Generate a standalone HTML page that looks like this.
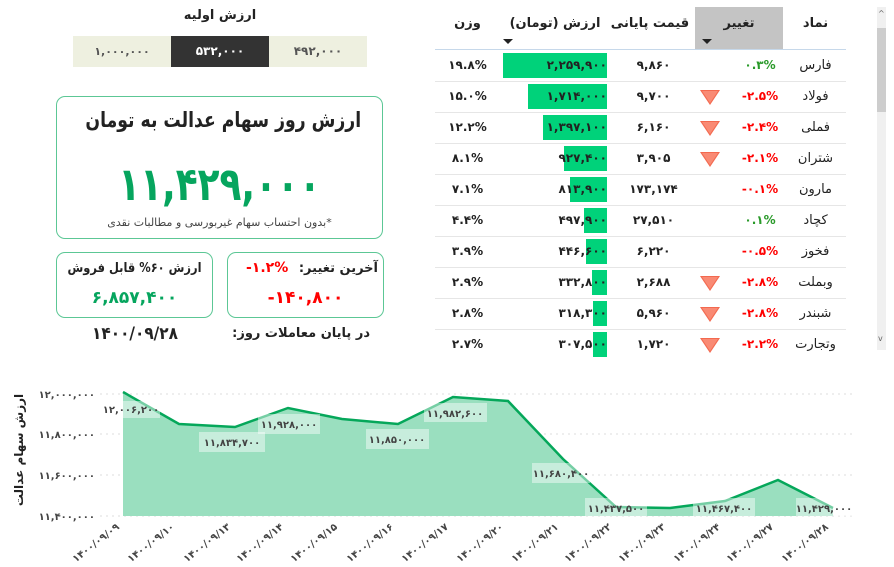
<!DOCTYPE html>
<html><head><meta charset="utf-8"><style>
*{margin:0;padding:0;box-sizing:border-box}
body{width:894px;height:567px;background:#fff;position:relative;overflow:hidden;font-family:"DejaVu Sans","Liberation Sans",sans-serif;color:#222}
.a{position:absolute}
.c{text-align:center;white-space:nowrap}
.b{font-weight:bold}
.box{position:absolute;border:1.5px solid #5cc795;border-radius:9px}
.cell{position:absolute;height:31px;line-height:31px;font-size:12px;font-weight:bold;text-align:center;white-space:nowrap}
.bar{position:absolute;background:#00d27a}
.tri{position:absolute;width:0;height:0;border-left:10px solid transparent;border-right:10px solid transparent;border-top:15px solid #f3694f}
.tri:after{content:"";position:absolute;left:-8px;top:-14px;border-left:8px solid transparent;border-right:8px solid transparent;border-top:12px solid #f98a74}
.rl{position:absolute;left:435px;width:411px;height:1px;background:#e6e6e6}
.nm{font-weight:normal;font-size:13px}
</style></head><body>

<div class="a c b" style="left:140px;top:8px;width:160px;font-size:13px">ارزش اولیه</div>
<div class="a c" style="left:73px;top:36px;width:98px;height:31px;line-height:31px;background:#eef0e0;font-size:11px;color:#555;font-weight:bold">۱,۰۰۰,۰۰۰</div>
<div class="a c" style="left:171px;top:36px;width:98px;height:31px;line-height:31px;background:#333;font-size:12px;color:#fff;font-weight:bold">۵۳۲,۰۰۰</div>
<div class="a c" style="left:269px;top:36px;width:98px;height:31px;line-height:31px;background:#eef0e0;font-size:12px;color:#555;font-weight:bold">۴۹۲,۰۰۰</div>

<div class="box" style="left:56px;top:96px;width:327px;height:143px"></div>
<div class="a c b" style="left:56px;top:108px;width:327px;font-size:21px;color:#222;transform:scaleX(0.82)">ارزش روز سهام عدالت به تومان</div>
<div class="a c b" style="left:56px;top:156px;width:327px;font-size:46px;color:#06a55e;line-height:56px;transform:scaleX(0.78)">۱۱,۴۲۹,۰۰۰</div>
<div class="a c" dir="rtl" style="left:56px;top:216px;width:327px;font-size:11px;color:#444">*بدون احتساب سهام غیربورسی و مطالبات نقدی</div>

<div class="box" style="left:56px;top:252px;width:157px;height:66px"></div>
<div class="a c b" dir="rtl" style="left:56px;top:261px;width:157px;font-size:13px;transform:scaleX(0.88)">ارزش ۶۰% قابل فروش</div>
<div class="a c b" style="left:56px;top:288px;width:157px;font-size:17px;color:#06a55e">۶,۸۵۷,۴۰۰</div>
<div class="box" style="left:227px;top:252px;width:157px;height:66px"></div>
<div class="a b" dir="rtl" style="left:290px;top:261px;width:88px;font-size:13px;text-align:right;white-space:nowrap">آخرین تغییر:</div>
<div class="a b" style="left:246px;top:260px;width:50px;font-size:14px;color:#f00">-۱.۲%</div>
<div class="a c b" style="left:227px;top:288px;width:157px;font-size:17px;color:#f00">-۱۴۰,۸۰۰</div>
<div class="a c b" style="left:60px;top:324px;width:150px;font-size:17px;transform:scaleX(0.9)">۱۴۰۰/۰۹/۲۸</div>
<div class="a b" dir="rtl" style="left:225px;top:326px;width:145px;font-size:13px;text-align:right;white-space:nowrap">در پایان معاملات روز:</div>

<div class="a" style="left:695px;top:7px;width:88px;height:43px;background:#c4c4c4"></div>
<div class="a" style="left:435px;top:49px;width:411px;height:1px;background:#c6d8ea"></div>
<div class="cell" style="left:785px;top:8px;width:61px;font-size:13px">نماد</div>
<div class="cell" style="left:695px;top:8px;width:88px;font-size:13px">تغییر</div>
<div class="a" style="left:702px;top:39px;border-left:5px solid transparent;border-right:5px solid transparent;border-top:5px solid #222"></div>
<div class="cell" style="left:605px;top:8px;width:90px;font-size:13px">قیمت پایانی</div>
<div class="cell" style="left:505px;top:8px;width:100px;font-size:13px">ارزش (تومان)</div>
<div class="a" style="left:503px;top:39px;border-left:5px solid transparent;border-right:5px solid transparent;border-top:5px solid #222"></div>
<div class="cell" style="left:440px;top:8px;width:55px;font-size:13px">وزن</div>

<div class="a" style="left:877px;top:7px;width:9px;height:343px;background:#f0f0f0"></div>
<div class="a" style="left:877px;top:28px;width:9px;height:84px;background:#cdcdcd"></div>
<div class="a" style="left:878px;top:9px;font-size:8px;color:#666">^</div>
<div class="a" style="left:878px;top:334px;font-size:8px;color:#666">v</div>

<div class="bar" style="left:503px;top:53px;width:104px;height:25px"></div>
<div class="bar" style="left:528px;top:84px;width:79px;height:25px"></div>
<div class="bar" style="left:543px;top:115px;width:64px;height:25px"></div>
<div class="bar" style="left:564px;top:146px;width:43px;height:25px"></div>
<div class="bar" style="left:570px;top:177px;width:37px;height:25px"></div>
<div class="bar" style="left:584px;top:208px;width:23px;height:25px"></div>
<div class="bar" style="left:586px;top:239px;width:21px;height:25px"></div>
<div class="bar" style="left:592px;top:270px;width:15px;height:25px"></div>
<div class="bar" style="left:593px;top:301px;width:14px;height:25px"></div>
<div class="bar" style="left:593px;top:332px;width:14px;height:25px"></div>

<div class="rl" style="top:81px"></div><div class="rl" style="top:112px"></div><div class="rl" style="top:143px"></div><div class="rl" style="top:174px"></div><div class="rl" style="top:205px"></div><div class="rl" style="top:236px"></div><div class="rl" style="top:267px"></div><div class="rl" style="top:298px"></div><div class="rl" style="top:329px"></div>

<div class="tri" style="left:700px;top:90px"></div>
<div class="tri" style="left:700px;top:121px"></div>
<div class="tri" style="left:700px;top:152px"></div>
<div class="tri" style="left:700px;top:276px"></div>
<div class="tri" style="left:700px;top:307px"></div>
<div class="tri" style="left:700px;top:338px"></div>

<div class="cell nm" style="left:785px;top:50px;width:61px">فارس</div><div class="cell" style="left:735px;top:50px;width:50px;color:#2a9a2a">۰.۳%</div><div class="cell" style="left:612px;top:50px;width:83px">۹,۸۶۰</div><div class="cell" style="left:503px;top:50px;width:104px;text-align:right">۲,۲۵۹,۹۰۰</div><div class="cell" style="left:440px;top:50px;width:55px">۱۹.۸%</div>
<div class="cell nm" style="left:785px;top:81px;width:61px">فولاد</div><div class="cell" style="left:735px;top:81px;width:50px;color:#f00">-۲.۵%</div><div class="cell" style="left:612px;top:81px;width:83px">۹,۷۰۰</div><div class="cell" style="left:503px;top:81px;width:104px;text-align:right">۱,۷۱۴,۰۰۰</div><div class="cell" style="left:440px;top:81px;width:55px">۱۵.۰%</div>
<div class="cell nm" style="left:785px;top:112px;width:61px">فملی</div><div class="cell" style="left:735px;top:112px;width:50px;color:#f00">-۲.۴%</div><div class="cell" style="left:612px;top:112px;width:83px">۶,۱۶۰</div><div class="cell" style="left:503px;top:112px;width:104px;text-align:right">۱,۳۹۷,۱۰۰</div><div class="cell" style="left:440px;top:112px;width:55px">۱۲.۲%</div>
<div class="cell nm" style="left:785px;top:143px;width:61px">شتران</div><div class="cell" style="left:735px;top:143px;width:50px;color:#f00">-۲.۱%</div><div class="cell" style="left:612px;top:143px;width:83px">۳,۹۰۵</div><div class="cell" style="left:503px;top:143px;width:104px;text-align:right">۹۲۷,۴۰۰</div><div class="cell" style="left:440px;top:143px;width:55px">۸.۱%</div>
<div class="cell nm" style="left:785px;top:174px;width:61px">مارون</div><div class="cell" style="left:735px;top:174px;width:50px;color:#f00">-۰.۱%</div><div class="cell" style="left:612px;top:174px;width:83px">۱۷۳,۱۷۴</div><div class="cell" style="left:503px;top:174px;width:104px;text-align:right">۸۱۳,۹۰۰</div><div class="cell" style="left:440px;top:174px;width:55px">۷.۱%</div>
<div class="cell nm" style="left:785px;top:205px;width:61px">کچاد</div><div class="cell" style="left:735px;top:205px;width:50px;color:#2a9a2a">۰.۱%</div><div class="cell" style="left:612px;top:205px;width:83px">۲۷,۵۱۰</div><div class="cell" style="left:503px;top:205px;width:104px;text-align:right">۴۹۷,۹۰۰</div><div class="cell" style="left:440px;top:205px;width:55px">۴.۴%</div>
<div class="cell nm" style="left:785px;top:236px;width:61px">فخوز</div><div class="cell" style="left:735px;top:236px;width:50px;color:#f00">-۰.۵%</div><div class="cell" style="left:612px;top:236px;width:83px">۶,۲۲۰</div><div class="cell" style="left:503px;top:236px;width:104px;text-align:right">۴۴۶,۶۰۰</div><div class="cell" style="left:440px;top:236px;width:55px">۳.۹%</div>
<div class="cell nm" style="left:785px;top:267px;width:61px">وبملت</div><div class="cell" style="left:735px;top:267px;width:50px;color:#f00">-۲.۸%</div><div class="cell" style="left:612px;top:267px;width:83px">۲,۶۸۸</div><div class="cell" style="left:503px;top:267px;width:104px;text-align:right">۳۳۲,۸۰۰</div><div class="cell" style="left:440px;top:267px;width:55px">۲.۹%</div>
<div class="cell nm" style="left:785px;top:298px;width:61px">شبندر</div><div class="cell" style="left:735px;top:298px;width:50px;color:#f00">-۲.۸%</div><div class="cell" style="left:612px;top:298px;width:83px">۵,۹۶۰</div><div class="cell" style="left:503px;top:298px;width:104px;text-align:right">۳۱۸,۳۰۰</div><div class="cell" style="left:440px;top:298px;width:55px">۲.۸%</div>
<div class="cell nm" style="left:785px;top:329px;width:61px">وتجارت</div><div class="cell" style="left:735px;top:329px;width:50px;color:#f00">-۲.۲%</div><div class="cell" style="left:612px;top:329px;width:83px">۱,۷۲۰</div><div class="cell" style="left:503px;top:329px;width:104px;text-align:right">۳۰۷,۵۰۰</div><div class="cell" style="left:440px;top:329px;width:55px">۲.۷%</div>

<svg class="a" style="left:0;top:0" width="894" height="567" font-family="DejaVu Sans, sans-serif">
<g stroke="#ddd" stroke-dasharray="2,4" stroke-width="1">
<line x1="100" y1="394" x2="855" y2="394"/><line x1="100" y1="434" x2="855" y2="434"/><line x1="100" y1="475" x2="855" y2="475"/><line x1="100" y1="516" x2="855" y2="516"/>
</g>
<g font-size="10" font-weight="bold" fill="#444" text-anchor="end">
<text x="95" y="398">۱۲,۰۰۰,۰۰۰</text><text x="95" y="438">۱۱,۸۰۰,۰۰۰</text><text x="95" y="479">۱۱,۶۰۰,۰۰۰</text><text x="95" y="520">۱۱,۴۰۰,۰۰۰</text>
</g>
<text transform="translate(23,450) rotate(-90)" font-size="12" font-weight="bold" fill="#222" text-anchor="middle">ارزش سهام عدالت</text>
<polygon fill="#9adfbf" points="123,392 179,424 235,427 288,408 342,419 398,424 453,397 508,401 563,459 616,507 670,508 725,501 778,480 833,508 833,516 123,516"/>
<polyline fill="none" stroke="#05a75a" stroke-width="2.5" points="123,392 179,424 235,427 288,408 342,419 398,424 453,397 508,401 563,459 616,507 670,508 725,501 778,480 833,508"/>
<g fill="#fff" fill-opacity="0.45">
<rect x="104" y="401" width="56" height="17"/><rect x="199" y="432" width="66" height="20"/><rect x="258" y="414" width="62" height="20"/><rect x="366" y="429" width="63" height="20"/><rect x="424" y="403" width="63" height="19"/><rect x="532" y="463" width="58" height="20"/><rect x="585" y="498" width="62" height="18"/><rect x="693" y="498" width="62" height="18"/><rect x="796" y="498" width="56" height="18"/>
</g>
<g font-size="10" font-weight="bold" fill="#444" text-anchor="middle">
<text x="131" y="413">۱۲,۰۰۶,۲۰۰</text><text x="232" y="446">۱۱,۸۳۴,۷۰۰</text><text x="289" y="428">۱۱,۹۲۸,۰۰۰</text><text x="397" y="443">۱۱,۸۵۰,۰۰۰</text><text x="455" y="417">۱۱,۹۸۲,۶۰۰</text><text x="561" y="477">۱۱,۶۸۰,۴۰۰</text><text x="616" y="512">۱۱,۴۳۷,۵۰۰</text><text x="724" y="512">۱۱,۴۶۷,۴۰۰</text><text x="824" y="512">۱۱,۴۲۹,۰۰۰</text>
</g>
<g font-size="10" font-weight="bold" fill="#444" text-anchor="end">
<text transform="translate(120,528) rotate(-38)">۱۴۰۰/۰۹/۰۹</text>
<text transform="translate(175,528) rotate(-38)">۱۴۰۰/۰۹/۱۰</text>
<text transform="translate(231,528) rotate(-38)">۱۴۰۰/۰۹/۱۳</text>
<text transform="translate(284,528) rotate(-38)">۱۴۰۰/۰۹/۱۴</text>
<text transform="translate(338,528) rotate(-38)">۱۴۰۰/۰۹/۱۵</text>
<text transform="translate(394,528) rotate(-38)">۱۴۰۰/۰۹/۱۶</text>
<text transform="translate(449,528) rotate(-38)">۱۴۰۰/۰۹/۱۷</text>
<text transform="translate(504,528) rotate(-38)">۱۴۰۰/۰۹/۲۰</text>
<text transform="translate(559,528) rotate(-38)">۱۴۰۰/۰۹/۲۱</text>
<text transform="translate(612,528) rotate(-38)">۱۴۰۰/۰۹/۲۲</text>
<text transform="translate(666,528) rotate(-38)">۱۴۰۰/۰۹/۲۳</text>
<text transform="translate(721,528) rotate(-38)">۱۴۰۰/۰۹/۲۴</text>
<text transform="translate(774,528) rotate(-38)">۱۴۰۰/۰۹/۲۷</text>
<text transform="translate(829,528) rotate(-38)">۱۴۰۰/۰۹/۲۸</text>
</g>
</svg>
</body></html>
